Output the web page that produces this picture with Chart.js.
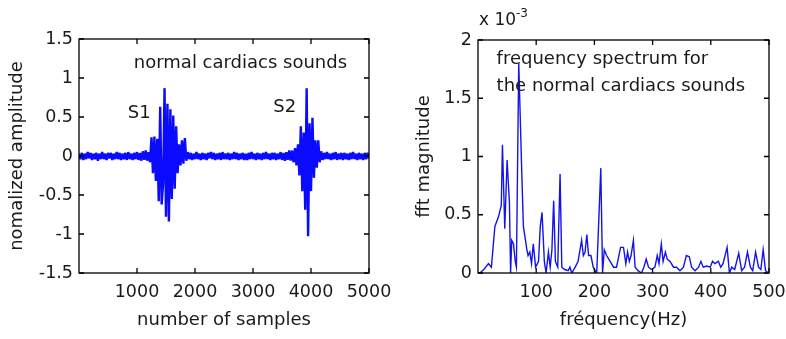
<!DOCTYPE html>
<html>
<head>
<meta charset="utf-8">
<script src="https://cdn.jsdelivr.net/npm/chart.js@4.4.1/dist/chart.umd.min.js"></script>
<style>
  html, body { margin: 0; padding: 0; background: #fff; }
  #wrap { width: 786px; height: 339px; display: flex; }
  canvas { display: block; }
</style>
</head>
<body>
<div id="wrap">
  <canvas id="signalChart" width="393" height="339"></canvas>
  <canvas id="spectrumChart" width="393" height="339"></canvas>
</div>
<script>
// ---- left plot: heart sound signal, one value every 25 samples (0..5000) ----
const sampleStep = 25;
const amplitude = [
  // 0 .. 1175 : background noise
  0.03, -0.04, 0.04, -0.05, 0.03, -0.04, 0.05, -0.03, 0.04, -0.05,
  0.03, -0.04, 0.04, -0.06, 0.03, -0.04, 0.05, -0.04, 0.03, -0.05,
  0.04, -0.03, 0.04, -0.05, 0.03, -0.04, 0.05, -0.04, 0.04, -0.05,
  0.03, -0.04, 0.04, -0.05, 0.05, -0.04, 0.03, -0.05, 0.04, -0.04,
  0.05, -0.05, 0.04, -0.06, 0.06, -0.05, 0.07, -0.06,
  // 1200 .. 1875 : S1
  0.05, -0.08, 0.24, -0.22, 0.25, -0.32, 0.22, -0.58, 0.63, -0.62,
  -0.35, 0.87, -0.78, 0.67, -0.84, 0.60, -0.55, 0.52, -0.42, 0.38,
  -0.22, 0.15, -0.12, 0.20, -0.10, 0.23, -0.06, 0.05,
  // 1900 .. 3625 : background noise
  -0.04, 0.04, -0.05, 0.03, -0.04, 0.05, -0.04, 0.03, -0.05, 0.04,
  -0.04, 0.03, -0.05, 0.04, -0.03, 0.05, -0.04, 0.04, -0.05, 0.03,
  -0.04, 0.04, -0.05, 0.05, -0.04, 0.03, -0.04, 0.04, -0.05, 0.03,
  -0.04, 0.05, -0.04, 0.04, -0.05, 0.03, -0.04, 0.04, -0.05, 0.03,
  -0.05, 0.04, -0.04, 0.05, -0.04, 0.03, -0.05, 0.04, -0.04, 0.03,
  -0.05, 0.04, -0.04, 0.05, -0.04, 0.03, -0.05, 0.04, -0.04, 0.04,
  -0.05, 0.03, -0.04, 0.05, -0.05, 0.04, -0.06, 0.05, -0.05, 0.07,
  // 3650 .. 4175 : S2
  -0.06, 0.07, -0.08, 0.10, -0.12, 0.15, -0.25, 0.38, -0.45, 0.30,
  -0.69, 0.87, -1.03, 0.42, -0.45, 0.49, -0.28, 0.20, -0.15, 0.20,
  -0.08, 0.06,
  // 4200 .. 5000 : background noise
  -0.05, 0.04, -0.04, 0.05, -0.04, 0.03, -0.05, 0.04, -0.04, 0.05,
  -0.05, 0.03, -0.04, 0.04, -0.05, 0.04, -0.04, 0.03, -0.05, 0.04,
  -0.04, 0.05, -0.04, 0.03, -0.05, 0.04, -0.04, 0.03, -0.05, 0.04,
  -0.04, 0.04, -0.03
];
const sampleTicks = [1000, 2000, 3000, 4000, 5000];
const amplitudeTicks = [-1.5, -1, -0.5, 0, 0.5, 1, 1.5];

// ---- right plot: fft magnitude (x 10^-3) ----
const freqHz = [
  0, 3, 10, 18, 23, 29, 35, 40, 42, 46, 50, 54, 56, 58, 61, 64, 66, 70, 75, 78,
  84, 86, 89, 92, 95, 99, 104, 107, 110, 114, 117, 121, 124, 127, 130, 133, 137, 141, 144, 149,
  155, 158, 161, 167, 172, 178, 181, 184, 187, 190, 194, 198, 204, 211, 214, 217, 221, 227, 233, 238,
  245, 250, 254, 257, 260, 263, 267, 270, 275, 281, 285, 289, 293, 298, 304, 308, 311, 315, 318, 322,
  325, 330, 336, 341, 347, 353, 358, 363, 367, 373, 379, 383, 387, 393, 399, 403, 407, 413, 417, 421,
  428, 432, 436, 441, 448, 453, 458, 463, 468, 472, 477, 482, 486, 490, 494, 499
];
const fftMagnitude = [
  0, 0, 0.03, 0.08, 0.05, 0.40, 0.48, 0.58, 1.10, 0.38, 0.97, 0.60, 0.00, 0.28, 0.25, 0.10, 0.05, 1.80, 0.90, 0.40,
  0.20, 0.15, 0.18, 0.08, 0.25, 0.05, 0.10, 0.40, 0.52, 0.10, 0.00, 0.18, 0.05, 0.20, 0.62, 0.10, 0.05, 0.85, 0.05, 0.03,
  0.02, 0.05, 0.00, 0.05, 0.10, 0.28, 0.15, 0.18, 0.33, 0.15, 0.15, 0.05, 0.00, 0.90, 0.00, 0.20, 0.15, 0.10, 0.05, 0.05,
  0.22, 0.22, 0.08, 0.18, 0.10, 0.15, 0.28, 0.05, 0.02, 0.00, 0.05, 0.12, 0.05, 0.03, 0.05, 0.15, 0.08, 0.25, 0.10, 0.18,
  0.12, 0.10, 0.05, 0.05, 0.02, 0.05, 0.15, 0.14, 0.05, 0.02, 0.05, 0.10, 0.05, 0.06, 0.05, 0.10, 0.08, 0.10, 0.05, 0.08,
  0.22, 0.00, 0.05, 0.03, 0.17, 0.02, 0.05, 0.18, 0.05, 0.02, 0.18, 0.05, 0.03, 0.20, 0.02, 0.00
];
const freqTicks = [100, 200, 300, 400, 500];
const magnitudeTicks = [0, 0.5, 1, 1.5, 2];

const FONT = "'DejaVu Sans', 'Liberation Sans', Arial, sans-serif";
const TEXT = '#1a1a1a';

// closed axes box with inward ticks, matlab style
const boxPlugin = {
  id: 'box',
  afterDatasetsDraw(chart) {
    const { ctx, chartArea: a, scales } = chart;
    const len = 5;
    ctx.save();
    ctx.strokeStyle = '#000';
    ctx.lineWidth = 1.3;
    ctx.strokeRect(a.left, a.top, a.right - a.left, a.bottom - a.top);
    ctx.beginPath();
    scales.x.ticks.forEach(t => {
      const px = scales.x.getPixelForValue(t.value);
      ctx.moveTo(px, a.bottom); ctx.lineTo(px, a.bottom - len);
      ctx.moveTo(px, a.top); ctx.lineTo(px, a.top + len);
    });
    scales.y.ticks.forEach(t => {
      const py = scales.y.getPixelForValue(t.value);
      ctx.moveTo(a.left, py); ctx.lineTo(a.left + len, py);
      ctx.moveTo(a.right, py); ctx.lineTo(a.right - len, py);
    });
    ctx.stroke();
    ctx.restore();
  }
};

// text placed inside the plot, anchored on data values
const notesPlugin = {
  id: 'notes',
  afterDraw(chart, args, opts) {
    const { ctx, scales } = chart;
    ctx.save();
    ctx.fillStyle = TEXT;
    ctx.textBaseline = 'middle';
    (opts.items || []).forEach(n => {
      ctx.font = (n.size || 18) + 'px ' + FONT;
      ctx.textAlign = n.align || 'left';
      const px = n.px !== undefined ? n.px : scales.x.getPixelForValue(n.x);
      const py = n.py !== undefined ? n.py : scales.y.getPixelForValue(n.y);
      ctx.fillText(n.text, px, py);
    });
    ctx.restore();
  }
};

function axis(min, max, tickList, title, size, hideZero) {
  return {
    type: 'linear',
    min: min,
    max: max,
    grid: { display: false, drawTicks: false },
    border: { display: false },
    afterBuildTicks: s => { s.ticks = tickList.map(v => ({ value: v })); },
    ticks: {
      color: TEXT,
      font: { family: FONT, size: 17.5 },
      padding: 6,
      autoSkip: false,
      maxRotation: 0,
      callback: v => (hideZero && v === 0) ? '' : String(v)
    },
    title: { display: true, text: title, color: TEXT, font: { family: FONT, size: size }, padding: 0 }
  };
}

// fixed axis box size, no extra room for overhanging labels
function fixHeight(h) {
  return s => { s.height = h; s.paddingLeft = 0; s.paddingRight = 0; };
}

document.addEventListener("DOMContentLoaded", function () {
  const signalX = axis(0, 5000, sampleTicks, 'number of samples', 18, true);
  signalX.ticks.padding = 9;
  signalX.afterFit = fixHeight(58);
  const signalY = axis(-1.5, 1.5, amplitudeTicks, 'nomalized amplitude', 18, false);
  signalY.afterFit = s => { s.width = 72; s.paddingTop = 0; s.paddingBottom = 0; };

  new Chart(document.getElementById('signalChart'), {
    type: 'line',
    data: {
      datasets: [{
        data: amplitude.map((v, i) => ({ x: i * sampleStep, y: v })),
        borderColor: '#0a0aff',
        borderWidth: 2.4,
        borderJoinStyle: 'bevel',
        pointRadius: 0,
        tension: 0,
        fill: false
      }]
    },
    options: {
      responsive: false,
      animation: false,
      layout: { padding: { left: 7, top: 39, right: 24, bottom: 8 } },
      plugins: {
        legend: { display: false },
        tooltip: { enabled: false },
        notes: {
          items: [
            { text: 'normal cardiacs sounds', x: 945, y: 1.19 },
            { text: 'S1', x: 842, y: 0.55 },
            { text: 'S2', x: 3350, y: 0.62 }
          ]
        }
      },
      scales: { x: signalX, y: signalY }
    },
    plugins: [boxPlugin, notesPlugin]
  });

  const specX = axis(0, 500, freqTicks, 'fréquency(Hz)', 18, true);
  specX.ticks.padding = 9;
  specX.afterFit = fixHeight(58);
  const specY = axis(0, 2, magnitudeTicks, 'fft magnitude', 18, false);
  specY.afterFit = s => { s.width = 64; s.paddingTop = 0; s.paddingBottom = 0; };

  new Chart(document.getElementById('spectrumChart'), {
    type: 'line',
    data: {
      datasets: [{
        data: freqHz.map((f, i) => ({ x: f, y: fftMagnitude[i] })),
        borderColor: '#1414e8',
        borderWidth: 1.4,
        pointRadius: 0,
        tension: 0,
        fill: false
      }]
    },
    options: {
      responsive: false,
      animation: false,
      layout: { padding: { left: 21, top: 40, right: 17, bottom: 8 } },
      plugins: {
        legend: { display: false },
        tooltip: { enabled: false },
        notes: {
          items: [
            { text: 'frequency spectrum for', x: 32, y: 1.83 },
            { text: 'the normal cardiacs sounds', x: 32, y: 1.60 },
            { text: 'x 10', px: 86, py: 21, size: 17 },
            { text: '-3', px: 123, py: 14, size: 12 }
          ]
        }
      },
      scales: { x: specX, y: specY }
    },
    plugins: [boxPlugin, notesPlugin]
  });
});
</script>
</body>
</html>
